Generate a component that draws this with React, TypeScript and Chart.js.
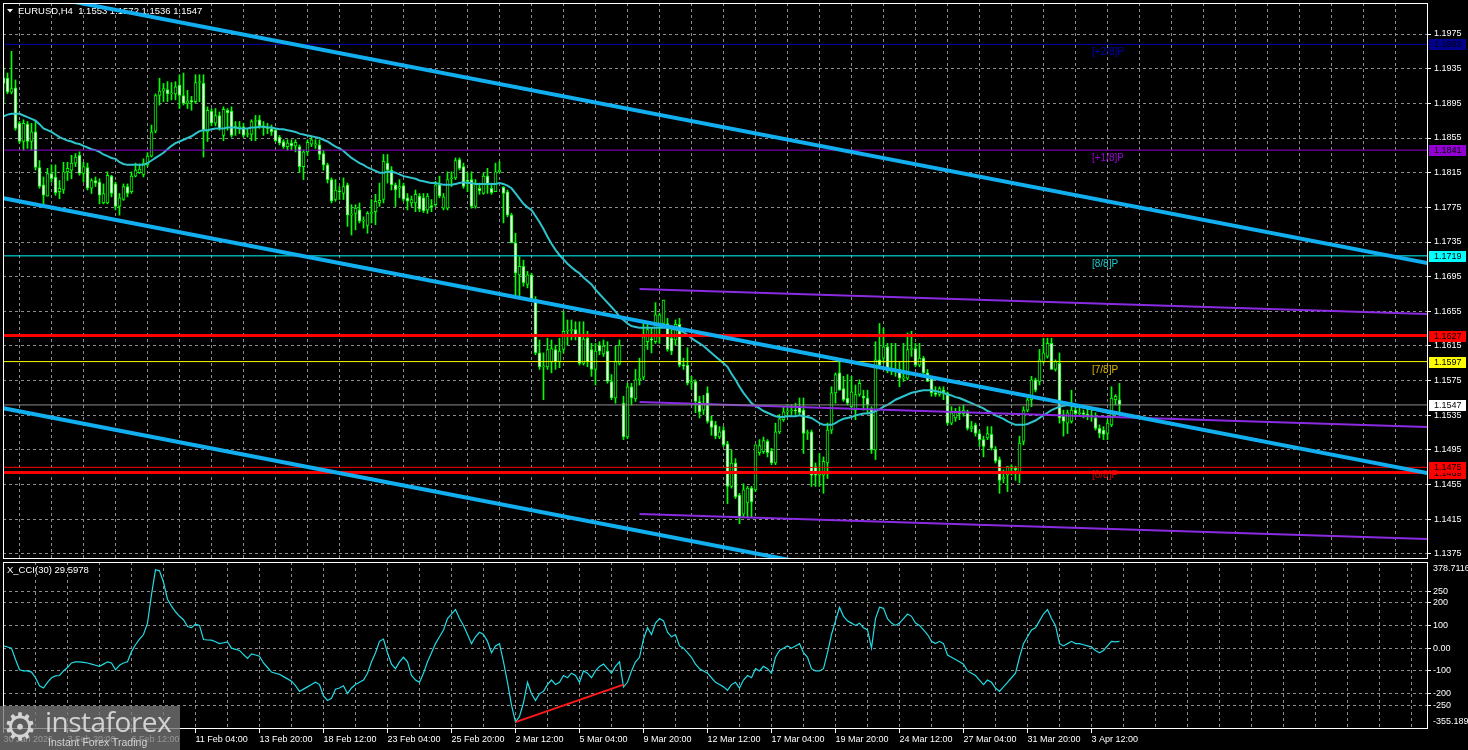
import React, { useEffect, useRef } from "react";
import { Chart, registerables } from "chart.js";

Chart.register(...registerables);

// ---------------- DATA ----------------
const OPEN = [
1.1924,1.1924,1.1908,1.1913,1.1872,1.1851,1.1871,1.1851,1.1862,1.1821,
1.1801,1.1788,1.1814,1.1810,1.1793,1.1795,1.1816,1.1818,1.1826,1.1835,
1.1814,1.1821,1.1797,1.1806,1.1804,1.1780,1.1780,1.1811,1.1802,1.1776,
1.1784,1.1799,1.1793,1.1811,1.1815,1.1813,1.1824,1.1834,1.1863,1.1904,
1.1909,1.1911,1.1906,1.1906,1.1916,1.1904,1.1895,1.1898,1.1897,1.1919,
1.1918,1.1862,1.1886,1.1872,1.1881,1.1858,1.1887,1.1886,1.1868,1.1867,
1.1868,1.1859,1.1859,1.1874,1.1876,1.1869,1.1867,1.1866,1.1864,1.1856,
1.1851,1.1845,1.1849,1.1846,1.1845,1.1822,1.1839,1.1848,1.1847,1.1847,
1.1837,1.1824,1.1807,1.1784,1.1794,1.1791,1.1801,1.1766,1.1768,1.1772,
1.1759,1.1754,1.1768,1.1770,1.1780,1.1784,1.1826,1.1818,1.1801,1.1797,
1.1800,1.1786,1.1780,1.1780,1.1788,1.1786,1.1772,1.1777,1.1778,1.1801,
1.1774,1.1774,1.1808,1.1809,1.1830,1.1822,1.1806,1.1807,1.1776,1.1797,
1.1791,1.1811,1.1797,1.1793,1.1816,1.1798,1.1793,1.1766,1.1734,1.1697,
1.1707,1.1686,1.1697,1.1669,1.1607,1.1591,1.1591,1.1597,1.1611,1.1597,
1.1611,1.1632,1.1633,1.1634,1.1628,1.1595,1.1624,1.1611,1.1588,1.1616,
1.1606,1.1609,1.1574,1.1555,1.1595,1.1549,1.1510,1.1568,1.1554,1.1576,
1.1579,1.1620,1.1623,1.1620,1.1641,1.1641,1.1641,1.1624,1.1622,1.1640,
1.1593,1.1593,1.1572,1.1574,1.1551,1.1541,1.1561,1.1529,1.1524,1.1510,
1.1518,1.1502,1.1453,1.1480,1.1443,1.1421,1.1434,1.1451,1.1449,1.1492,
1.1493,1.1505,1.1494,1.1480,1.1516,1.1530,1.1539,1.1540,1.1541,1.1545,
1.1541,1.1514,1.1516,1.1476,1.1466,1.1466,1.1480,1.1518,1.1561,1.1584,
1.1566,1.1555,1.1545,1.1541,1.1559,1.1557,1.1555,1.1543,1.1495,1.1599,
1.1601,1.1614,1.1586,1.1588,1.1588,1.1578,1.1578,1.1611,1.1612,1.1593,
1.1601,1.1584,1.1578,1.1561,1.1559,1.1564,1.1561,1.1526,1.1532,1.1539,
1.1537,1.1538,1.1520,1.1524,1.1514,1.1507,1.1509,1.1513,1.1496,1.1484,
1.1462,1.1466,1.1476,1.1474,1.1468,1.1505,1.1541,1.1553,1.1576,1.1574,
1.1597,1.1603,1.1618,1.1588,1.1595,1.1534,1.1526,1.1528,1.1541,1.1537,
1.1538,1.1536,1.1535,1.1532,1.1520,1.1518,1.1514,1.1524,1.1553,1.1553,
];

const HIGH = [
1.1935,1.1930,1.1955,1.1922,1.1874,1.1876,1.1874,1.1872,1.1874,1.1829,
1.1810,1.1820,1.1824,1.1824,1.1806,1.1827,1.1827,1.1835,1.1837,1.1839,
1.1827,1.1826,1.1808,1.1810,1.1808,1.1802,1.1816,1.1812,1.1804,1.1791,
1.1802,1.1802,1.1816,1.1826,1.1825,1.1831,1.1838,1.1870,1.1906,1.1924,
1.1918,1.1920,1.1919,1.1920,1.1928,1.1930,1.1910,1.1903,1.1928,1.1928,
1.1928,1.1891,1.1889,1.1889,1.1885,1.1891,1.1889,1.1891,1.1874,1.1874,
1.1872,1.1866,1.1876,1.1881,1.1881,1.1874,1.1872,1.1870,1.1866,1.1858,
1.1853,1.1853,1.1853,1.1853,1.1847,1.1841,1.1853,1.1856,1.1853,1.1853,
1.1841,1.1826,1.1809,1.1807,1.1799,1.1809,1.1803,1.1778,1.1778,1.1780,
1.1764,1.1770,1.1784,1.1790,1.1803,1.1836,1.1836,1.1822,1.1803,1.1807,
1.1803,1.1791,1.1788,1.1795,1.1791,1.1791,1.1791,1.1784,1.1805,1.1811,
1.1791,1.1816,1.1816,1.1832,1.1832,1.1826,1.1815,1.1816,1.1807,1.1803,
1.1815,1.1820,1.1803,1.1826,1.1828,1.1799,1.1795,1.1768,1.1745,1.1718,
1.1714,1.1701,1.1699,1.1672,1.1622,1.1607,1.1624,1.1622,1.1616,1.1624,
1.1655,1.1645,1.1645,1.1643,1.1643,1.1643,1.1632,1.1618,1.1618,1.1620,
1.1622,1.1620,1.1582,1.1615,1.1622,1.1557,1.1572,1.1572,1.1588,1.1601,
1.1641,1.1643,1.1636,1.1665,1.1653,1.1668,1.1647,1.1634,1.1645,1.1647,
1.1601,1.1613,1.1580,1.1576,1.1557,1.1558,1.1568,1.1534,1.1528,1.1522,
1.1522,1.1505,1.1495,1.1485,1.1445,1.1456,1.1453,1.1453,1.1501,1.1507,
1.1510,1.1507,1.1497,1.1526,1.1536,1.1545,1.1547,1.1547,1.1549,1.1555,
1.1555,1.1518,1.1518,1.1480,1.1491,1.1487,1.1526,1.1568,1.1584,1.1599,
1.1580,1.1582,1.1580,1.1570,1.1576,1.1564,1.1564,1.1545,1.1620,1.1641,
1.1636,1.1618,1.1618,1.1618,1.1597,1.1618,1.1630,1.1632,1.1618,1.1618,
1.1603,1.1588,1.1580,1.1568,1.1568,1.1568,1.1562,1.1545,1.1543,1.1545,
1.1547,1.1541,1.1528,1.1526,1.1518,1.1511,1.1522,1.1522,1.1499,1.1487,
1.1472,1.1476,1.1478,1.1476,1.1511,1.1545,1.1555,1.1580,1.1578,1.1611,
1.1624,1.1624,1.1624,1.1599,1.1607,1.1541,1.1541,1.1564,1.1547,1.1543,
1.1541,1.1543,1.1543,1.1538,1.1524,1.1522,1.1530,1.1568,1.1559,1.1572,
];

const LOW = [
1.1895,1.1906,1.1906,1.1864,1.1849,1.1841,1.1843,1.1841,1.1818,1.1797,
1.1779,1.1788,1.1804,1.1789,1.1785,1.1791,1.1806,1.1808,1.1822,1.1812,
1.1804,1.1795,1.1791,1.1799,1.1779,1.1779,1.1779,1.1787,1.1772,1.1766,
1.1783,1.1787,1.1791,1.1810,1.1814,1.1810,1.1822,1.1833,1.1861,1.1893,
1.1897,1.1897,1.1899,1.1899,1.1889,1.1893,1.1889,1.1887,1.1895,1.1897,
1.1833,1.1851,1.1869,1.1869,1.1864,1.1852,1.1864,1.1856,1.1858,1.1860,
1.1856,1.1856,1.1852,1.1852,1.1866,1.1858,1.1860,1.1858,1.1851,1.1847,
1.1843,1.1841,1.1841,1.1839,1.1815,1.1807,1.1835,1.1845,1.1843,1.1830,
1.1818,1.1803,1.1780,1.1782,1.1784,1.1784,1.1753,1.1743,1.1749,1.1757,
1.1751,1.1745,1.1757,1.1755,1.1776,1.1780,1.1803,1.1795,1.1776,1.1786,
1.1782,1.1772,1.1776,1.1770,1.1770,1.1769,1.1768,1.1770,1.1776,1.1786,
1.1772,1.1772,1.1799,1.1807,1.1818,1.1797,1.1793,1.1774,1.1774,1.1790,
1.1790,1.1791,1.1790,1.1793,1.1815,1.1757,1.1764,1.1734,1.1674,1.1672,
1.1684,1.1682,1.1668,1.1605,1.1588,1.1553,1.1588,1.1584,1.1588,1.1590,
1.1607,1.1616,1.1622,1.1622,1.1593,1.1593,1.1591,1.1580,1.1570,1.1605,
1.1603,1.1572,1.1553,1.1549,1.1593,1.1507,1.1508,1.1547,1.1551,1.1570,
1.1576,1.1611,1.1607,1.1618,1.1618,1.1638,1.1609,1.1605,1.1616,1.1591,
1.1588,1.1570,1.1565,1.1538,1.1532,1.1536,1.1526,1.1512,1.1508,1.1508,
1.1499,1.1433,1.1451,1.1439,1.1410,1.1418,1.1418,1.1418,1.1447,1.1489,
1.1491,1.1487,1.1478,1.1478,1.1514,1.1528,1.1534,1.1536,1.1536,1.1536,
1.1491,1.1507,1.1453,1.1453,1.1453,1.1445,1.1462,1.1514,1.1549,1.1564,
1.1551,1.1547,1.1541,1.1530,1.1557,1.1541,1.1538,1.1491,1.1484,1.1591,
1.1595,1.1584,1.1582,1.1580,1.1568,1.1574,1.1576,1.1603,1.1591,1.1591,
1.1582,1.1574,1.1557,1.1557,1.1557,1.1553,1.1524,1.1524,1.1528,1.1530,
1.1534,1.1518,1.1516,1.1511,1.1499,1.1487,1.1507,1.1495,1.1480,1.1445,
1.1457,1.1447,1.1466,1.1460,1.1457,1.1501,1.1539,1.1545,1.1562,1.1570,
1.1595,1.1601,1.1588,1.1586,1.1526,1.1511,1.1514,1.1526,1.1534,1.1534,
1.1532,1.1530,1.1528,1.1518,1.1509,1.1507,1.1507,1.1522,1.1547,1.1536,
];

const CLOSE = [
1.1918,1.1908,1.1912,1.1866,1.1851,1.1872,1.1851,1.1862,1.1821,1.1799,
1.1789,1.1814,1.1808,1.1792,1.1797,1.1816,1.1820,1.1826,1.1833,1.1814,
1.1822,1.1797,1.1806,1.1803,1.1789,1.1791,1.1812,1.1791,1.1776,1.1786,
1.1799,1.1791,1.1811,1.1818,1.1819,1.1826,1.1834,1.1862,1.1904,1.1909,
1.1912,1.1906,1.1907,1.1914,1.1904,1.1895,1.1898,1.1897,1.1919,1.1920,
1.1864,1.1887,1.1872,1.1881,1.1866,1.1888,1.1884,1.1858,1.1867,1.1868,
1.1858,1.1860,1.1874,1.1875,1.1869,1.1867,1.1866,1.1862,1.1852,1.1849,
1.1845,1.1849,1.1846,1.1850,1.1822,1.1839,1.1850,1.1853,1.1847,1.1836,
1.1824,1.1807,1.1782,1.1795,1.1793,1.1799,1.1766,1.1766,1.1774,1.1759,
1.1760,1.1768,1.1769,1.1782,1.1783,1.1828,1.1818,1.1801,1.1795,1.1799,
1.1784,1.1782,1.1784,1.1790,1.1773,1.1771,1.1788,1.1775,1.1801,1.1788,
1.1787,1.1807,1.1809,1.1829,1.1820,1.1799,1.1805,1.1776,1.1803,1.1794,
1.1811,1.1801,1.1792,1.1816,1.1818,1.1791,1.1766,1.1734,1.1699,1.1707,
1.1688,1.1697,1.1669,1.1607,1.1591,1.1592,1.1611,1.1612,1.1597,1.1609,
1.1632,1.1633,1.1634,1.1628,1.1595,1.1623,1.1597,1.1588,1.1609,1.1609,
1.1615,1.1574,1.1555,1.1597,1.1616,1.1510,1.1568,1.1555,1.1576,1.1578,
1.1626,1.1634,1.1622,1.1651,1.1651,1.1668,1.1611,1.1609,1.1640,1.1593,
1.1592,1.1572,1.1574,1.1551,1.1539,1.1549,1.1528,1.1521,1.1511,1.1516,
1.1501,1.1453,1.1480,1.1441,1.1418,1.1449,1.1451,1.1435,1.1501,1.1500,
1.1506,1.1492,1.1480,1.1516,1.1531,1.1539,1.1540,1.1541,1.1540,1.1538,
1.1514,1.1515,1.1466,1.1466,1.1470,1.1482,1.1518,1.1561,1.1582,1.1564,
1.1553,1.1549,1.1562,1.1559,1.1572,1.1555,1.1547,1.1495,1.1599,1.1593,
1.1614,1.1586,1.1588,1.1586,1.1578,1.1579,1.1611,1.1612,1.1593,1.1601,
1.1584,1.1574,1.1561,1.1559,1.1566,1.1562,1.1526,1.1538,1.1539,1.1537,
1.1541,1.1520,1.1522,1.1514,1.1507,1.1499,1.1514,1.1497,1.1482,1.1460,
1.1463,1.1476,1.1474,1.1472,1.1503,1.1541,1.1553,1.1576,1.1564,1.1599,
1.1607,1.1618,1.1588,1.1597,1.1532,1.1528,1.1538,1.1541,1.1537,1.1538,
1.1536,1.1535,1.1533,1.1520,1.1514,1.1513,1.1526,1.1555,1.1557,1.1547,
];

const MA = [
1.1880,1.1882,1.1883,1.1883,1.1883,1.1881,1.1879,1.1877,1.1875,1.1871,
1.1866,1.1864,1.1862,1.1859,1.1856,1.1854,1.1852,1.1851,1.1849,1.1848,
1.1846,1.1844,1.1842,1.1841,1.1839,1.1836,1.1834,1.1832,1.1831,1.1827,
1.1825,1.1824,1.1824,1.1824,1.1824,1.1824,1.1826,1.1829,1.1832,1.1835,
1.1838,1.1842,1.1846,1.1849,1.1851,1.1853,1.1855,1.1857,1.1860,1.1863,
1.1864,1.1864,1.1865,1.1866,1.1866,1.1866,1.1867,1.1867,1.1867,1.1866,
1.1866,1.1866,1.1867,1.1867,1.1868,1.1868,1.1867,1.1867,1.1866,1.1865,
1.1865,1.1864,1.1863,1.1862,1.1860,1.1859,1.1858,1.1857,1.1856,1.1855,
1.1853,1.1851,1.1848,1.1845,1.1843,1.1840,1.1836,1.1832,1.1829,1.1826,
1.1824,1.1821,1.1819,1.1817,1.1815,1.1815,1.1816,1.1816,1.1815,1.1813,
1.1811,1.1810,1.1809,1.1808,1.1806,1.1805,1.1804,1.1803,1.1803,1.1802,
1.1801,1.1801,1.1801,1.1802,1.1803,1.1804,1.1803,1.1803,1.1802,1.1802,
1.1802,1.1802,1.1802,1.1802,1.1803,1.1802,1.1800,1.1797,1.1791,1.1785,
1.1779,1.1775,1.1772,1.1765,1.1758,1.1750,1.1741,1.1733,1.1726,1.1720,
1.1715,1.1710,1.1706,1.1702,1.1699,1.1694,1.1690,1.1686,1.1680,1.1675,
1.1670,1.1665,1.1660,1.1655,1.1649,1.1645,1.1641,1.1638,1.1637,1.1636,
1.1636,1.1636,1.1636,1.1636,1.1636,1.1636,1.1636,1.1635,1.1634,1.1633,
1.1631,1.1628,1.1624,1.1621,1.1618,1.1615,1.1611,1.1607,1.1603,1.1599,
1.1595,1.1591,1.1583,1.1576,1.1568,1.1561,1.1555,1.1549,1.1546,1.1543,
1.1540,1.1538,1.1536,1.1534,1.1533,1.1533,1.1534,1.1534,1.1534,1.1535,
1.1534,1.1533,1.1532,1.1529,1.1526,1.1524,1.1524,1.1524,1.1526,1.1529,
1.1531,1.1532,1.1533,1.1535,1.1536,1.1537,1.1537,1.1538,1.1540,1.1542,
1.1545,1.1547,1.1550,1.1553,1.1555,1.1557,1.1559,1.1561,1.1562,1.1563,
1.1564,1.1564,1.1564,1.1563,1.1562,1.1561,1.1559,1.1558,1.1556,1.1555,
1.1553,1.1551,1.1549,1.1547,1.1545,1.1543,1.1540,1.1538,1.1535,1.1533,
1.1531,1.1528,1.1526,1.1524,1.1524,1.1524,1.1525,1.1527,1.1529,1.1532,
1.1535,1.1538,1.1541,1.1543,1.1545,1.1546,1.1547,1.1546,1.1545,1.1545,
1.1544,1.1543,1.1542,1.1541,1.1540,1.1539,1.1538,1.1537,1.1537,1.1537,
];

const CCI = [
10,5,0,-50,-95,-100,-100,-105,-130,-165,
-175,-150,-130,-122,-120,-100,-85,-65,-60,-60,
-62,-65,-70,-75,-80,-70,-60,-65,-95,-75,
-65,-60,-15,15,40,60,110,235,345,340,
290,215,185,160,140,125,95,90,105,100,
38,36,35,28,20,24,28,0,-5,-10,
-28,-45,-25,-30,-35,-65,-85,-105,-110,-115,
-125,-135,-145,-165,-190,-180,-170,-160,-150,-160,
-210,-230,-220,-180,-175,-165,-200,-175,-160,-150,
-140,-110,-60,-20,30,40,-20,-70,-90,-60,
-40,-60,-120,-140,-150,-110,-60,-20,20,50,
80,130,150,170,130,100,60,20,50,70,
60,30,-20,10,20,-60,-150,-250,-325,-300,
-240,-150,-200,-230,-200,-190,-160,-140,-160,-150,
-120,-130,-110,-120,-150,-100,-110,-130,-100,-80,
-70,-90,-110,-80,-60,-170,-150,-100,-60,-40,
40,90,60,110,130,120,70,50,60,10,
0,-20,-40,-70,-90,-100,-110,-130,-150,-160,
-170,-185,-160,-150,-175,-140,-120,-130,-90,-100,
-80,-90,-110,-40,-10,0,10,0,10,20,
-20,-40,-90,-100,-100,-90,-20,60,120,180,
140,120,110,100,110,90,80,0,130,180,
175,130,110,100,110,130,150,140,110,100,
80,60,30,20,30,20,-30,-40,-50,-60,
-70,-100,-110,-120,-140,-160,-140,-150,-175,-190,
-170,-150,-130,-110,-40,20,50,80,90,120,
150,170,130,100,20,10,20,30,20,20,
15,10,5,-10,-20,-10,10,30,28,29.5978,
];

// time-axis labels, one every 16 bars starting at bar 0
const X_TICK_LABELS = [
  "30 Jan 2026", "3 Feb 20:00", "6 Feb 12:00", "11 Feb 04:00", "13 Feb 20:00",
  "18 Feb 12:00", "23 Feb 04:00", "25 Feb 20:00", "2 Mar 12:00", "5 Mar 04:00",
  "9 Mar 20:00", "12 Mar 12:00", "17 Mar 04:00", "19 Mar 20:00", "24 Mar 12:00",
  "27 Mar 04:00", "31 Mar 20:00", "3 Apr 12:00",
];

const PRICE_TICKS = [
  1.1375, 1.1415, 1.1455, 1.1495, 1.1535, 1.1575, 1.1615, 1.1655,
  1.1695, 1.1735, 1.1775, 1.1815, 1.1855, 1.1895, 1.1935, 1.1975,
];
const CCI_TICKS = [250, 200, 100, 0, -100, -200, -250];
const CCI_RANGE = [-355.189, 378.7116];

// horizontal levels (Murrey math + bid)
const LEVEL_VALUES = [1.1963, 1.1841, 1.1719, 1.1627, 1.1597, 1.1547, 1.1475, 1.1469];
const LEVEL_NAMES = ["[+2/8]P", "[+1/8]P", "[8/8]P", "", "[7/8]P", "", "[6/8]P", ""];

// regression channel (values at bar 0 and bar 356)
const CHANNEL_BARS = [0, 356];
const CHANNEL_UPPER = [1.20278, 1.17107];
const CHANNEL_MID = [1.17854, 1.14684];
const CHANNEL_LOW = [1.15431, 1.12261];

// purple channel (values at bar 159 and bar 356)
const PURPLE_BARS = [159, 356];
const PURPLE_UPPER = [1.16808, 1.16519];
const PURPLE_MID = [1.15504, 1.15215];
const PURPLE_LOW = [1.14212, 1.13923];

// CCI divergence line
const DIV_BARS = [128, 155];
const DIV_VALUES = [-325, -160];

const LABEL_BAR = 272;

// ---------------- STYLES / LAYOUT ----------------
const X_MIN = -0.125;
const X_MAX = 355.875;
const Y_MIN = 1.136923;
const Y_MAX = 1.201077;
const FONT = "Liberation Sans";
const GRID = "#8c8c8c";
const GREEN = "#00ff00";
const CHANNEL_COLOR = "#12aff0";
const PURPLE = "#8a2be2";
const MA_COLOR = "#2ec4ce";
const CCI_COLOR = "#22dbe6";

const LEVEL_LINE = [
  { color: "#0000a8", width: 1 },
  { color: "#9400d3", width: 1 },
  { color: "#00ffff", width: 1 },
  { color: "#ff0000", width: 3 },
  { color: "#ffff00", width: 1 },
  { color: "#8c8c8c", width: 1 },
  { color: "#ff0000", width: 1 },
  { color: "#ff0000", width: 3 },
];
const LEVEL_LABEL_COLOR = ["#0000b4", "#9400d3", "#1bc9c9", "", "#dcb800", "", "#e00000", ""];
const TAG_BG = ["#00008c", "#9400d3", "#00ffff", "#ff0000", "#ffff00", "#ffffff", "#ff0000", "#ff0000"];
const TAG_ORDER = [7, 6, 5, 4, 3, 2, 1, 0];

const GRID_BARS: number[] = [];
for (let b = 0; b <= 352; b += 8) GRID_BARS.push(b);

const seg = (xs: number[], ys: number[]) => [
  { x: xs[0], y: ys[0] },
  { x: xs[1], y: ys[1] },
];

const lineDs = (data: any[], color: string, width: number, order: number) => ({
  type: "line" as const,
  data,
  borderColor: color,
  borderWidth: width,
  pointRadius: 0,
  fill: false,
  tension: 0,
  order,
  clip: 0,
});

const mainPlugin = {
  id: "mainDecor",
  beforeDatasetsDraw(chart: any) {
    const { ctx, scales } = chart;
    ctx.save();
    ctx.textBaseline = "middle";
    ctx.font = `10px "${FONT}"`;
    LEVEL_VALUES.forEach((v, k) => {
      const name = LEVEL_NAMES[k];
      if (!name) return;
      ctx.fillStyle = LEVEL_LABEL_COLOR[k];
      ctx.fillText(name, Math.round(scales.x.getPixelForValue(LABEL_BAR)), Math.round(scales.y.getPixelForValue(v)) + 8);
    });
    ctx.fillStyle = "#ffffff";
    ctx.beginPath();
    ctx.moveTo(7, 9);
    ctx.lineTo(13, 9);
    ctx.lineTo(10, 12.5);
    ctx.closePath();
    ctx.fill();
    const n = OPEN.length - 1;
    ctx.font = `9.5px "${FONT}"`;
    ctx.fillText(
      `EURUSD,H4  ${OPEN[n].toFixed(4)} ${HIGH[n].toFixed(4)} ${LOW[n].toFixed(4)} ${CLOSE[n].toFixed(4)}`,
      18,
      11
    );
    ctx.restore();
  },
  afterDraw(chart: any) {
    const { ctx, chartArea, scales } = chart;
    ctx.save();
    ctx.strokeStyle = "#ffffff";
    ctx.lineWidth = 1;
    ctx.setLineDash([]);
    ctx.strokeRect(chartArea.left + 0.5, chartArea.top + 0.5, chartArea.right - chartArea.left, chartArea.bottom - chartArea.top - 1);
    ctx.font = `9px "${FONT}"`;
    ctx.textBaseline = "middle";
    TAG_ORDER.forEach((k) => {
      const py = Math.round(scales.y.getPixelForValue(LEVEL_VALUES[k]));
      ctx.fillStyle = TAG_BG[k];
      ctx.fillRect(chartArea.right + 2, py - 5, 37, 11);
      ctx.fillStyle = "#000000";
      ctx.fillText(LEVEL_VALUES[k].toFixed(4), chartArea.right + 7, py + 0.5);
    });
    ctx.restore();
  },
};

const cciPlugin = {
  id: "cciDecor",
  afterDraw(chart: any) {
    const { ctx, chartArea } = chart;
    ctx.save();
    ctx.strokeStyle = "#ffffff";
    ctx.lineWidth = 1;
    ctx.setLineDash([]);
    ctx.strokeRect(chartArea.left + 0.5, chartArea.top + 0.5, chartArea.right - chartArea.left, chartArea.bottom - chartArea.top - 1);
    ctx.fillStyle = "#ffffff";
    ctx.textBaseline = "middle";
    ctx.font = `9.5px "${FONT}"`;
    ctx.fillText(`X_CCI(30) ${CCI[CCI.length - 1].toFixed(4)}`, 7, 10);
    ctx.font = `9px "${FONT}"`;
    ctx.fillText(CCI_RANGE[1].toFixed(4), chartArea.right + 6, chartArea.top + 7);
    ctx.fillText(CCI_RANGE[0].toFixed(3), chartArea.right + 6, chartArea.bottom - 7);
    ctx.restore();
  },
};

function buildMain(canvas: HTMLCanvasElement) {
  const idx = OPEN.map((_, i) => i);
  const datasets: any[] = [
    lineDs(seg(CHANNEL_BARS, CHANNEL_UPPER), CHANNEL_COLOR, 4, 1),
    lineDs(seg(CHANNEL_BARS, CHANNEL_MID), CHANNEL_COLOR, 4, 1),
    lineDs(seg(CHANNEL_BARS, CHANNEL_LOW), CHANNEL_COLOR, 4, 1),
    ...LEVEL_VALUES.map((v, k) =>
      lineDs(seg([X_MIN, X_MAX], [v, v]), LEVEL_LINE[k].color, LEVEL_LINE[k].width, 2)
    ),
    lineDs(seg(PURPLE_BARS, PURPLE_UPPER), PURPLE, 2, 3),
    lineDs(seg(PURPLE_BARS, PURPLE_MID), PURPLE, 2, 3),
    lineDs(seg(PURPLE_BARS, PURPLE_LOW), PURPLE, 2, 3),
    lineDs(idx.map((i) => ({ x: i, y: MA[i] })), MA_COLOR, 2, 4),
    {
      type: "bar",
      data: idx.map((i) => ({ x: i, y: [OPEN[i], CLOSE[i]] })),
      backgroundColor: idx.map((i) => (CLOSE[i] < OPEN[i] ? "#ffffff" : "#000000")),
      borderColor: GREEN,
      borderWidth: 1,
      borderSkipped: false,
      barThickness: 3,
      minBarLength: 1,
      grouped: false,
      order: 10,
    },
    {
      type: "bar",
      data: idx.map((i) => ({ x: i, y: [LOW[i], HIGH[i]] })),
      backgroundColor: GREEN,
      borderWidth: 0,
      barThickness: 1,
      grouped: false,
      order: 11,
    },
  ];
  return new Chart(canvas, {
    type: "bar",
    data: { datasets },
    options: {
      responsive: false,
      animation: false,
      devicePixelRatio: 1,
      events: [],
      layout: { padding: { left: 3, top: 3, right: 0, bottom: 1 }, autoPadding: false },
      plugins: { legend: { display: false }, tooltip: { enabled: false } },
      scales: {
        x: {
          type: "linear",
          min: X_MIN,
          max: X_MAX,
          offset: false,
          position: "bottom",
          afterBuildTicks: (s: any) => {
            s.ticks = GRID_BARS.map((v) => ({ value: v }));
          },
          afterFit: (s: any) => {
            s.height = 0;
            s.paddingLeft = 0;
            s.paddingRight = 0;
          },
          ticks: { display: false },
          grid: { color: GRID, lineWidth: 1, drawTicks: false },
          border: { display: false, dash: [3, 3] },
        },
        y: {
          type: "linear",
          position: "right",
          min: Y_MIN,
          max: Y_MAX,
          afterBuildTicks: (s: any) => {
            s.ticks = PRICE_TICKS.map((v) => ({ value: v }));
          },
          afterFit: (s: any) => {
            s.width = 41;
            s.paddingTop = 0;
            s.paddingBottom = 0;
          },
          ticks: {
            color: "#ffffff",
            font: { family: FONT, size: 9 },
            padding: 3,
            callback: (v: any) => Number(v).toFixed(4),
          },
          grid: { color: GRID, lineWidth: 1, drawTicks: true, tickLength: 4, tickColor: "#ffffff", tickBorderDash: [] },
          border: { display: false, dash: [3, 3] },
        },
      },
    } as any,
    plugins: [mainPlugin],
  } as any);
}

function buildCci(canvas: HTMLCanvasElement) {
  const idx = CCI.map((_, i) => i);
  return new Chart(canvas, {
    type: "line",
    data: {
      datasets: [
        lineDs(seg(DIV_BARS, DIV_VALUES), "#ff1a1a", 2, 0),
        lineDs(idx.map((i) => ({ x: i, y: CCI[i] })), CCI_COLOR, 1.2, 1),
      ],
    },
    options: {
      responsive: false,
      animation: false,
      devicePixelRatio: 1,
      events: [],
      layout: { padding: { left: 3, top: 2, right: 0, bottom: 0 }, autoPadding: false },
      plugins: { legend: { display: false }, tooltip: { enabled: false } },
      scales: {
        x: {
          type: "linear",
          min: X_MIN,
          max: X_MAX,
          offset: false,
          position: "bottom",
          afterBuildTicks: (s: any) => {
            s.ticks = GRID_BARS.map((v) => ({ value: v }));
          },
          afterFit: (s: any) => {
            s.height = 21;
            s.paddingLeft = 0;
            s.paddingRight = 0;
          },
          ticks: {
            display: true,
            color: "#ffffff",
            font: { family: FONT, size: 9 },
            align: "start",
            maxRotation: 0,
            minRotation: 0,
            autoSkip: false,
            padding: 1,
            callback: (v: any) => {
              const n = Number(v);
              return n % 16 === 0 ? X_TICK_LABELS[n / 16] || "" : "";
            },
          },
          grid: {
            color: GRID,
            lineWidth: 1,
            drawTicks: true,
            tickLength: 4,
            tickBorderDash: [],
            tickColor: (c: any) => {
              const v = c.tick ? c.tick.value : -1;
              return v % 16 === 0 && X_TICK_LABELS[v / 16] ? "#ffffff" : "rgba(0,0,0,0)";
            },
          },
          border: { display: false, dash: [3, 3] },
        },
        y: {
          type: "linear",
          position: "right",
          min: CCI_RANGE[0],
          max: CCI_RANGE[1],
          afterBuildTicks: (s: any) => {
            s.ticks = CCI_TICKS.map((v) => ({ value: v }));
          },
          afterFit: (s: any) => {
            s.width = 41;
            s.paddingTop = 0;
            s.paddingBottom = 0;
          },
          ticks: {
            color: "#ffffff",
            font: { family: FONT, size: 9 },
            padding: 2,
            callback: (v: any) => (Number(v) === 0 ? "0.00" : String(v)),
          },
          grid: { color: GRID, lineWidth: 1, drawTicks: true, tickLength: 4, tickColor: "#ffffff", tickBorderDash: [] },
          border: { display: false, dash: [3, 3] },
        },
      },
    } as any,
    plugins: [cciPlugin],
  } as any);
}

export default function App() {
  const mainRef = useRef<HTMLCanvasElement | null>(null);
  const cciRef = useRef<HTMLCanvasElement | null>(null);

  useEffect(() => {
    const a = buildMain(mainRef.current as HTMLCanvasElement);
    const b = buildCci(cciRef.current as HTMLCanvasElement);
    return () => {
      a.destroy();
      b.destroy();
    };
  }, []);

  return (
    <div
      style={{
        position: "absolute",
        left: 0,
        top: 0,
        width: 1468,
        height: 750,
        background: "#000000",
        overflow: "hidden",
      }}
    >
      <canvas ref={mainRef} width={1468} height={560} style={{ position: "absolute", left: 0, top: 0 }} />
      <canvas ref={cciRef} width={1468} height={190} style={{ position: "absolute", left: 0, top: 560 }} />
      <div
        style={{
          position: "absolute",
          left: 0,
          top: 706,
          width: 180,
          height: 44,
          background: "rgba(118,118,118,0.78)",
          fontFamily: FONT,
          color: "rgba(220,220,220,0.92)",
        }}
      >
        <span
          style={{
            position: "absolute",
            left: 3,
            top: 0,
            fontFamily: "DejaVu Sans",
            fontSize: 38,
            lineHeight: "42px",
          }}
        >
          ⚙
        </span>
        <span
          style={{
            position: "absolute",
            left: 45,
            top: -1,
            fontFamily: "Open Sans",
            fontSize: 28,
            lineHeight: "32px",
            letterSpacing: -0.5,
          }}
        >
          instaforex
        </span>
        <span
          style={{
            position: "absolute",
            left: 48,
            top: 30,
            fontSize: 10.5,
            lineHeight: "12px",
          }}
        >
          Instant Forex Trading
        </span>
      </div>
    </div>
  );
}
